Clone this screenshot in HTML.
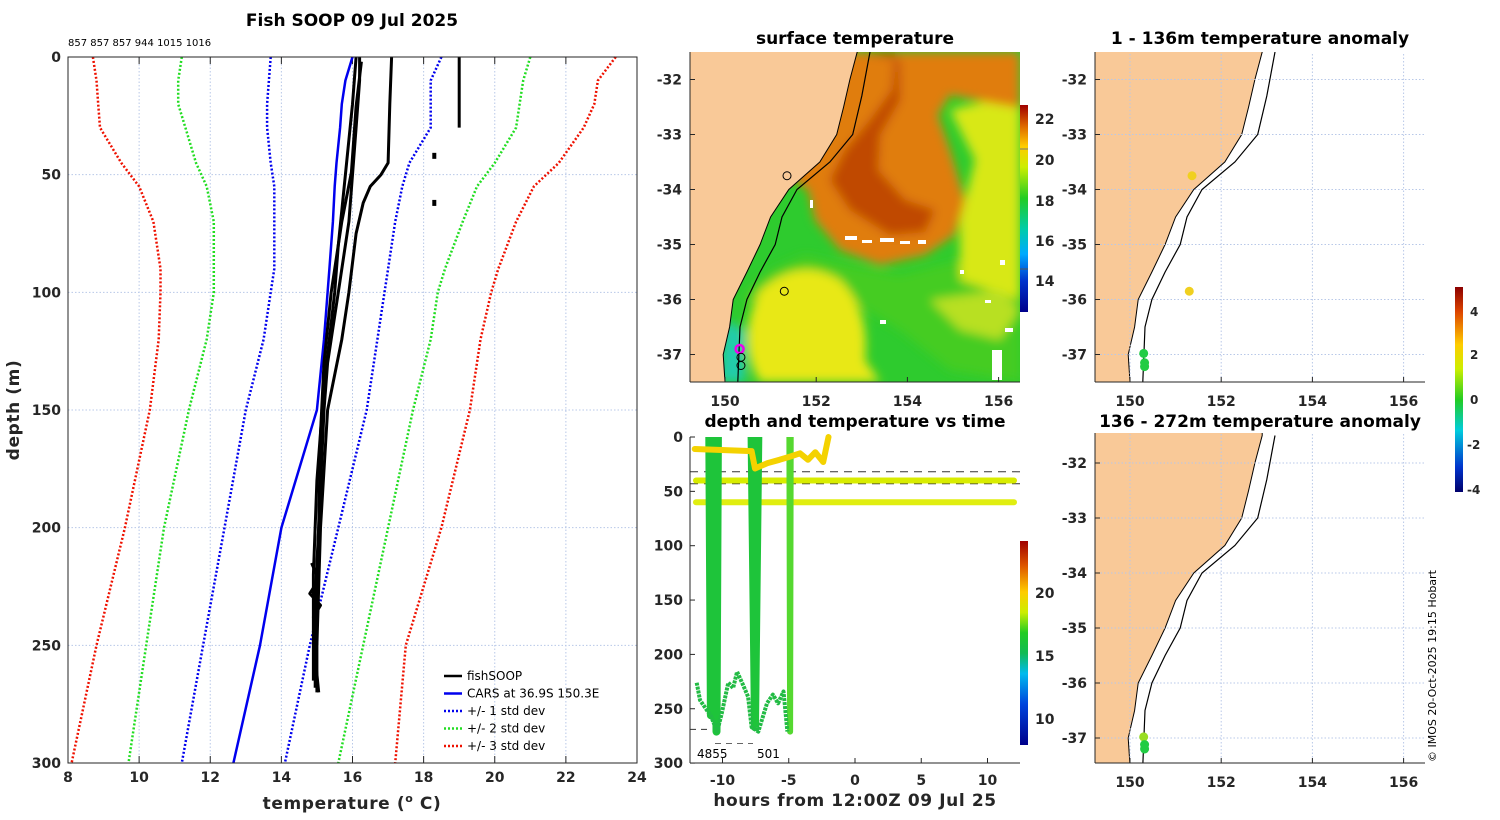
<!DOCTYPE html>
<html><head><meta charset="utf-8"><style>
html,body{margin:0;padding:0;background:#fff;}
svg{display:block;font-family:"DejaVu Sans","Liberation Sans",sans-serif;}
.tk{font-size:14px;font-weight:bold;fill:#262626;}
.ttl{font-size:17px;font-weight:bold;fill:#000;}
.axt{font-size:17px;font-weight:bold;fill:#262626;letter-spacing:0.6px;}
</style></head><body>
<svg id="fig" width="1500" height="820" viewBox="0 0 1500 820" xmlns="http://www.w3.org/2000/svg">
<defs>
<clipPath id="cp1"><rect x="690" y="52" width="330" height="330"/></clipPath>
<clipPath id="cp2"><rect x="1095" y="52" width="330" height="330"/></clipPath>
<clipPath id="cp3"><rect x="1095" y="433" width="330" height="330"/></clipPath>
<filter id="bl"><feGaussianBlur stdDeviation="5"/></filter>
<linearGradient id="sstcb" x1="0" y1="1" x2="0" y2="0">
<stop offset="0" stop-color="#00008b"/><stop offset="0.15" stop-color="#0033cc"/><stop offset="0.28" stop-color="#00aaff"/>
<stop offset="0.4" stop-color="#00ccaa"/><stop offset="0.55" stop-color="#22cc22"/><stop offset="0.7" stop-color="#ccee00"/>
<stop offset="0.8" stop-color="#ffcc00"/><stop offset="0.9" stop-color="#dd6600"/><stop offset="1" stop-color="#a00000"/></linearGradient>
<linearGradient id="dtcb" x1="0" y1="1" x2="0" y2="0">
<stop offset="0" stop-color="#00008b"/><stop offset="0.2" stop-color="#0044dd"/><stop offset="0.35" stop-color="#00bbee"/>
<stop offset="0.45" stop-color="#11bb55"/><stop offset="0.55" stop-color="#22cc22"/><stop offset="0.65" stop-color="#ccee00"/>
<stop offset="0.75" stop-color="#ffcc00"/><stop offset="0.88" stop-color="#dd5500"/><stop offset="1" stop-color="#a00000"/></linearGradient>
<linearGradient id="ancb" x1="0" y1="1" x2="0" y2="0">
<stop offset="0" stop-color="#00006b"/><stop offset="0.12" stop-color="#0033cc"/><stop offset="0.3" stop-color="#00ccdd"/>
<stop offset="0.45" stop-color="#22cc22"/><stop offset="0.6" stop-color="#ccee00"/><stop offset="0.72" stop-color="#ffcc00"/>
<stop offset="0.88" stop-color="#dd4400"/><stop offset="1" stop-color="#8b0000"/></linearGradient>
</defs>

<g id="left"></g>
<text class="ttl" x="352" y="26" text-anchor="middle">Fish SOOP 09 Jul 2025</text>
<text x="68" y="46" font-size="10" fill="#000">857 857 857 944 1015 1016</text>
<text class="axt" x="352" y="809" text-anchor="middle">temperature (<tspan font-size="11" dy="-7">o</tspan><tspan dy="7"> C)</tspan></text>
<text class="axt" transform="translate(19,410) rotate(-90)" text-anchor="middle">depth (m)</text>

<g clip-path="url(#cp1)">
<rect x="690" y="52" width="330" height="330" fill="#2ecb2e"/>
<g filter="url(#bl)">
<path d="M740,300 L770,270 L805,255 L860,268 L900,275 L960,260 L1020,300 L1020,382 L950,370 L900,330 L850,300 L800,300 Z" fill="#44cc22"/>
<path d="M950,110 L990,100 L1020,100 L1020,300 L990,290 L960,280 L960,220 L975,160 Z" fill="#d8e818"/>
<path d="M760,290 Q800,255 840,280 Q870,310 865,360 L880,382 L760,382 Q735,340 760,290 Z" fill="#e8e814"/>
<path d="M790,52 L1020,52 L1020,108 L985,102 L950,95 L938,115 L950,150 L965,200 L955,235 L925,255 L880,265 L840,250 L815,220 L808,190 L790,178 L800,150 L815,110 Z" fill="#e07d08"/>
<path d="M862,52 L895,52 L892,90 L870,120 L845,150 L830,180 L850,210 L890,235 L925,232 L935,210 L905,200 L878,170 L880,135 L900,100 L900,60 Z" fill="#c04a05"/>
<path d="M723,320 L745,330 L745,382 L720,382 Z" fill="#22ccaa"/>
<path d="M930,300 L1000,290 L1020,310 L1000,340 L960,330 Z" fill="#b8e020"/>
</g>
<g fill="#fff">
<rect x="845" y="236" width="12" height="4"/><rect x="862" y="240" width="10" height="3"/><rect x="880" y="238" width="14" height="4"/>
<rect x="900" y="241" width="10" height="3"/><rect x="918" y="240" width="8" height="4"/><rect x="960" y="270" width="4" height="4"/>
<rect x="985" y="300" width="6" height="3"/><rect x="992" y="350" width="10" height="30"/><rect x="880" y="320" width="6" height="4"/>
<rect x="1005" y="328" width="8" height="4"/><rect x="810" y="200" width="3" height="8"/><rect x="1000" y="260" width="5" height="5"/>
</g>
<g id="m1"></g>
</g>
<text class="ttl" x="855" y="44" text-anchor="middle">surface temperature</text>
<rect x="1020" y="105" width="8" height="207" fill="url(#sstcb)"/>
<line x1="1020" y1="149" x2="1028" y2="149" stroke="#777"/><line x1="1020" y1="269" x2="1028" y2="269" stroke="#555"/>
<g class="tk">
<text x="1035" y="124">22</text><text x="1035" y="165">20</text><text x="1035" y="206">18</text><text x="1035" y="246">16</text><text x="1035" y="286">14</text></g>

<g clip-path="url(#cp2)"><rect x="1095" y="52" width="330" height="330" fill="#fff"/><g id="m2"></g></g>
<text class="ttl" x="1260" y="44" text-anchor="middle">1 - 136m temperature anomaly</text>
<g clip-path="url(#cp3)"><rect x="1095" y="433" width="330" height="330" fill="#fff"/><g id="m3"></g></g>
<text class="ttl" x="1260" y="427" text-anchor="middle">136 - 272m temperature anomaly</text>
<rect x="1455" y="287" width="8" height="205" fill="url(#ancb)"/>
<g font-size="12" font-weight="bold" fill="#262626">
<text x="1470" y="316">4</text><text x="1470" y="359">2</text><text x="1470" y="404">0</text><text x="1467" y="449">-2</text><text x="1467" y="494">-4</text></g>
<text transform="translate(1436,762) rotate(-90)" font-size="11" fill="#000">© IMOS 20-Oct-2025 19:15 Hobart</text>

<g id="dt"></g>
<text class="ttl" x="855" y="427" text-anchor="middle">depth and temperature vs time</text>
<text class="axt" x="855" y="806" text-anchor="middle">hours from 12:00Z 09 Jul 25</text>
<rect x="1020" y="541" width="8" height="204" fill="url(#dtcb)"/>
<g class="tk">
<text x="1035" y="598">20</text><text x="1035" y="661">15</text><text x="1035" y="724">10</text></g>

<script>
const NS="http://www.w3.org/2000/svg";
function mk(p,t,a){const e=document.createElementNS(NS,t);for(const k in a)e.setAttribute(k,a[k]);p.appendChild(e);return e;}

const depthLevels=[0,10,20,30,45,55,70,90,100,120,150,200,250,300];
const std3Lo=[8.7,8.8,8.85,8.9,9.5,10.0,10.4,10.6,10.6,10.55,10.3,9.6,8.8,8.1];
const std3Hi=[23.4,22.9,22.8,22.5,21.8,21.1,20.6,20.1,19.9,19.6,19.3,18.5,17.5,17.2];
const std2Lo=[11.2,11.1,11.1,11.3,11.6,11.9,12.1,12.1,12.1,11.9,11.4,10.7,10.2,9.7];
const std2Hi=[21.0,20.8,20.7,20.6,20.0,19.5,19.1,18.6,18.4,18.2,17.7,17.0,16.3,15.6];
const std1Lo=[13.7,13.65,13.6,13.6,13.7,13.8,13.8,13.8,13.7,13.5,13.0,12.4,11.8,11.2];
const std1Hi=[18.5,18.2,18.2,18.2,17.6,17.4,17.2,17.0,16.9,16.7,16.4,15.6,14.8,14.1];
const cars=[16.0,15.8,15.7,15.65,15.55,15.5,15.45,15.35,15.3,15.2,15.0,14.0,13.4,12.65];
const fishDepths=[
 [0,10,30,50,70,100,130,150,200,230,250,270],
 [0,20,50,80,100,140,180,220,265],
 [0,20,45,50,55,62,75,100,120,150,200,250],
 [2,21,49,70,100,130,160,200,240,268],
 [0,30],
 [215,222,228,233,238,245,255,270]];
const fishTemps=[
 [16.2,16.2,16.1,16.0,15.9,15.6,15.3,15.2,15.05,14.95,15.0,15.0],
 [16.1,16.0,15.8,15.6,15.5,15.2,15.0,14.9,14.9],
 [17.1,17.05,17.0,16.8,16.5,16.3,16.1,15.9,15.7,15.3,15.1,15.0],
 [16.25,16.1,15.97,15.7,15.4,15.2,15.1,15.05,14.95,14.95],
 [19.0,19.0],
 [14.85,15.05,14.8,15.1,14.9,15.0,14.95,15.05]];
const xTicks=[8,10,12,14,16,18,20,22,24];
const yTicks=[0,50,100,150,200,250,300];

const xT=t=>68+(t-8)*35.5625, yD=d=>57+d*2.3533;
const L=document.getElementById('left');
xTicks.forEach(t=>{const g=mk(L,'line',{x1:xT(t),x2:xT(t),y1:57,y2:763,stroke:'#b8c8e8','stroke-dasharray':'1.5,2','stroke-width':1});
 
 
 const tx=mk(L,'text',{x:xT(t),y:782,'text-anchor':'middle',class:'tk'});tx.textContent=t;
 
 
 mk(L,'line',{x1:xT(t),x2:xT(t),y1:763,y2:756,stroke:'#262626'});mk(L,'line',{x1:xT(t),x2:xT(t),y1:57,y2:64,stroke:'#262626'});});
yTicks.forEach(d=>{const g=mk(L,'line',{x1:68,x2:637,y1:yD(d),y2:yD(d),stroke:'#b8c8e8','stroke-dasharray':'1.5,2'});
 
 
 const tx=mk(L,'text',{x:61,y:yD(d)+5,'text-anchor':'end',class:'tk'});tx.textContent=d;
 
 });
function prof(ds,ts,col,w,dash,name){const pts=ds.map((d,i)=>xT(ts[i]).toFixed(1)+','+yD(d).toFixed(1)).join(' ');
 const p=mk(L,'polyline',{points:pts,fill:'none',stroke:col,'stroke-width':w,'stroke-dasharray':dash||'none','stroke-linejoin':'round'});
 
 }
prof(depthLevels,std3Lo,'#ee1100',2.5,'2,2','std3-low');prof(depthLevels,std3Hi,'#ee1100',2.5,'2,2','std3-high');
prof(depthLevels,std2Lo,'#22dd22',2.5,'2,2','std2-low');prof(depthLevels,std2Hi,'#22dd22',2.5,'2,2','std2-high');
prof(depthLevels,std1Lo,'#0000ee',2.5,'2,2','std1-low');prof(depthLevels,std1Hi,'#0000ee',2.5,'2,2','std1-high');
prof(depthLevels,cars,'#0000ee',2.5,null,'cars-profile');
fishDepths.forEach((ds,i)=>prof(ds,fishTemps[i],'#000',3,null,'fish-profile'));
[[18.3,42],[18.3,62]].forEach(p=>{const e=mk(L,'rect',{x:xT(p[0])-2,y:yD(p[1])-3,width:4,height:6,fill:'#000'});
 
 });
mk(L,'rect',{x:68,y:57,width:569,height:706,fill:'none',stroke:'#262626','stroke-width':1});
const leg=[['fishSOOP','#000',null],['CARS at 36.9S 150.3E','#0000ee',null],['+/- 1 std dev','#0000ee','2,2'],['+/- 2 std dev','#22dd22','2,2'],['+/- 3 std dev','#ee1100','2,2']];
leg.forEach((l,i)=>{const y=676+i*17.5;mk(L,'line',{x1:444,x2:462,y1:y,y2:y,stroke:l[1],'stroke-width':2.5,'stroke-dasharray':l[2]||'none'});
 const t=mk(L,'text',{x:467,y:y+4,'font-size':12,fill:'#000'});t.textContent=l[0];
 
 });

const coastLon=[152.9,152.74,152.6,152.45,152.08,151.4,151.0,150.77,150.48,150.18,150.1,149.96,150.0];
const coastLat=[-31.5,-32,-32.5,-33,-33.5,-34,-34.5,-35,-35.5,-36,-36.5,-37,-37.5];
const shelfLon=[153.18,153.0,152.8,152.3,151.58,151.25,151.1,150.77,150.48,150.33,150.28];
const shelfLat=[-31.5,-32.3,-33,-33.5,-34,-34.5,-35,-35.5,-36,-36.5,-37.5];
const lonTicks=[150,152,154,156], latTicks=[-32,-33,-34,-35,-36,-37];
const castLon1=[151.36,151.3,150.32,150.35,150.35], castLat1=[-33.75,-35.85,-36.9,-37.05,-37.2];
const anomLon2=[151.36,151.3,150.3,150.32,150.32], anomLat2=[-33.75,-35.85,-36.98,-37.15,-37.22];
const anomVal2=[2.2,2.2,0.6,0.5,0.5];
const anomLon3=[150.3,150.32,150.32], anomLat3=[-36.98,-37.12,-37.2];
const anomVal3=[1.2,0.6,0.6];
function anCol(v){return v>1.8?'#f0d020':v>1.0?'#99dd22':'#22cc44';}
function drawMap(id,x0,yTop,sea){const G=document.getElementById(id);
 const px=l=>x0+(l-150)*45.6, py=la=>yTop+(-31.5-la)*55;
 let d='M'+(x0-40)+','+(yTop-20)+' L'+px(coastLon[0]).toFixed(1)+','+(yTop-20);
 coastLon.forEach((l,i)=>d+=' L'+px(l).toFixed(1)+','+py(coastLat[i]).toFixed(1));
 d+=' L'+px(coastLon[coastLon.length-1]).toFixed(1)+','+(yTop+345)+' L'+(x0-40)+','+(yTop+345)+' Z';
 const land=mk(G,'path',{d:d,fill:'#f9c998',stroke:'#000','stroke-width':1});
 
 
 if(!sea){lonTicks.forEach(l=>mk(G,'line',{x1:px(l),x2:px(l),y1:yTop-5,y2:yTop+340,stroke:'#b8c8e8','stroke-dasharray':'1.5,2'}));
  latTicks.forEach(la=>mk(G,'line',{x1:x0-40,x2:x0+300,y1:py(la),y2:py(la),stroke:'#b8c8e8','stroke-dasharray':'1.5,2'}));}
 const sh=mk(G,'polyline',{points:shelfLon.map((l,i)=>px(l).toFixed(1)+','+py(shelfLat[i]).toFixed(1)).join(' '),fill:'none',stroke:'#000','stroke-width':1.2});
 
 
 return {px,py,G};}
const m1=drawMap('m1',725,52,true);
castLon1.forEach((l,i)=>{const c=mk(m1.G,'circle',{cx:m1.px(l),cy:m1.py(castLat1[i]),r:4,fill:'none',stroke:i==2?'#ee00ee':'#000','stroke-width':i==2?2.5:1});
 
 });
const m2=drawMap('m2',1130,52,false);
anomLon2.forEach((l,i)=>{const c=mk(m2.G,'circle',{cx:m2.px(l),cy:m2.py(anomLat2[i]),r:4.5,fill:anCol(anomVal2[i])});
 
 });
const m3=drawMap('m3',1130,435.5,false);
anomLon3.forEach((l,i)=>{const c=mk(m3.G,'circle',{cx:m3.px(l),cy:m3.py(anomLat3[i]),r:4.5,fill:anCol(anomVal3[i])});
 
 });
const F=document.getElementById('fig');
[[725,52,382,690,52],[1130,52,382,1095,52],[1130,435.5,763,1095,433]].forEach(([x0,yt,yb,xl,yf])=>{
 mk(F,'line',{x1:xl,x2:xl+330,y1:yb,y2:yb,stroke:'#262626'});mk(F,'line',{x1:xl,x2:xl,y1:yf,y2:yb,stroke:'#262626'});
 lonTicks.forEach(l=>{const x=x0+(l-150)*45.6;mk(F,'line',{x1:x,x2:x,y1:yb,y2:yb-5,stroke:'#262626'});
  const t=mk(F,'text',{x:x,y:yb+24,'text-anchor':'middle',class:'tk'});t.textContent=l;
  
  });
 latTicks.forEach(la=>{const y=yt+(-31.5-la)*55;mk(F,'line',{x1:xl,x2:xl+5,y1:y,y2:y,stroke:'#262626'});
  const t=mk(F,'text',{x:xl-8,y:y+5,'text-anchor':'end',class:'tk'});t.textContent=la;
  
  });});

const bottomHours=[-11.95,-11.7,-11.2,-10.9,-10.4,-10.05,-9.56,-9.2,-8.9,-8.45,-8.07,-7.8,-7.3,-6.64,-6.2,-5.8,-5.4,-5.1];
const bottomDepths=[226,242,251,256,271,254,226,231,216,228,239,267,271,245,237,245,234,271];
const castStart=[-11.0,-10.55,-7.8,-4.95];
const castEnd=[-10.75,-10.35,-7.3,-4.85];
const castDepth=[256,271,267,271];
const surfHours=[-12.1,-7.8,-7.55,-6.6,-5.7,-4.9,-4.15,-3.55,-3.0,-2.4,-2.0];
const surfDepths=[11,13,29,24,21,18,15,21,14,23,0];
const lineDepths=[40,60];
const dashDepths=[32,43];
const tTicks=[-10,-5,0,5,10], dTicks=[0,50,100,150,200,250,300];
const xH=h=>855+h*13.25, yM=d=>437+d*1.087;
const D=document.getElementById('dt');
dashDepths.forEach(d=>{const l=mk(D,'line',{x1:690,x2:1020,y1:yM(d),y2:yM(d),stroke:'#333','stroke-dasharray':'8,6'});
 
 });
mk(D,'line',{x1:690,x2:712,y1:yM(269),y2:yM(269),stroke:'#333','stroke-dasharray':'6,5'});
mk(D,'line',{x1:715,x2:753,y1:yM(282),y2:yM(282),stroke:'#666','stroke-dasharray':'6,5'});
lineDepths.forEach((d,i)=>{const l=mk(D,'line',{x1:xH(-12),x2:xH(12),y1:yM(d),y2:yM(d),stroke:i?'#e0ee10':'#d8ec00','stroke-width':6,'stroke-linecap':'round'});
 
 });
castStart.forEach((s,i)=>{const pts=[[s,0],[(s+castEnd[i])/2,castDepth[i]],[castEnd[i],0]].map(p=>xH(p[0]).toFixed(1)+','+yM(p[1]).toFixed(1)).join(' ');
 const c=mk(D,'polyline',{points:pts,fill:'none',stroke:i==3?'#55d830':'#1ec43a','stroke-width':i==3?6:8,'stroke-linejoin':'round'});
 
 });
const bt=mk(D,'polyline',{points:bottomHours.map((h,i)=>xH(h).toFixed(1)+','+yM(bottomDepths[i]).toFixed(1)).join(' '),fill:'none',stroke:'#22bb44','stroke-width':4,'stroke-dasharray':'3,1','stroke-linejoin':'round'});


const st=mk(D,'polyline',{points:surfHours.map((h,i)=>xH(h).toFixed(1)+','+yM(surfDepths[i]).toFixed(1)).join(' '),fill:'none',stroke:'#f4d200','stroke-width':6,'stroke-linejoin':'round','stroke-linecap':'round'});


mk(D,'line',{x1:690,x2:1020,y1:763,y2:763,stroke:'#262626'});mk(D,'line',{x1:690,x2:690,y1:437,y2:763,stroke:'#262626'});
tTicks.forEach(h=>{mk(D,'line',{x1:xH(h),x2:xH(h),y1:763,y2:758,stroke:'#262626'});
 const t=mk(D,'text',{x:xH(h),y:785,'text-anchor':'middle',class:'tk'});t.textContent=h;
 
 });
dTicks.forEach(d=>{mk(D,'line',{x1:690,x2:695,y1:yM(d),y2:yM(d),stroke:'#262626'});
 const t=mk(D,'text',{x:683,y:yM(d)+5,'text-anchor':'end',class:'tk'});t.textContent=d;
 
 });
[['4855',697],['501',757]].forEach(a=>{const t=mk(D,'text',{x:a[1],y:758,'font-size':12,fill:'#000'});t.textContent=a[0];
 
 });
</script>
</svg>
</body></html>
